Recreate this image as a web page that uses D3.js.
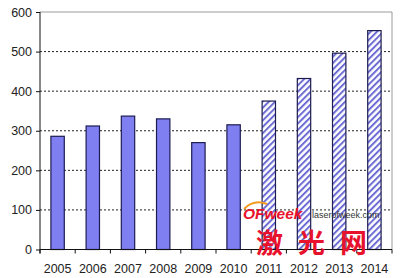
<!DOCTYPE html>
<html>
<head>
<meta charset="utf-8">
<script src="https://cdn.jsdelivr.net/npm/d3@7.9.0/dist/d3.min.js"></script>
<style>
  body { margin: 0; background: #fff; }
  text { font-family: "Liberation Sans", Arial, sans-serif; }
</style>
</head>
<body>
<svg id="chart" width="400" height="278"></svg>
<script>
// data
const years = ['2005', '2006', '2007', '2008', '2009', '2010', '2011', '2012', '2013', '2014'];
const values = [286, 312, 337, 330, 270, 315, 375, 432, 496, 553];
const forecast = [false, false, false, false, false, false, true, true, true, true];
const yTicks = [0, 100, 200, 300, 400, 500, 600];

const svg = d3.select('#chart');
const plotL = 40, plotR = 392, plotT = 12, plotB = 249.5;

let x = d3.scaleBand().domain(years).range([plotL, plotR])
  .paddingInner(0.62).paddingOuter(0.31);
let y = d3.scaleLinear().domain([0, 600]).range([plotB, plotT]);

// hatch for the forecast years
let defs = svg.append('defs');
let pat = defs.append('pattern')
  .attr('id', 'hatch')
  .attr('patternUnits', 'userSpaceOnUse')
  .attr('width', 4.5).attr('height', 4.5)
  .attr('patternTransform', 'rotate(45)');
pat.append('rect').attr('width', 4.5).attr('height', 4.5).attr('fill', '#fff');
pat.append('rect').attr('width', 2).attr('height', 4.5).attr('fill', '#6c6cd4');

// dotted grid
svg.append('g')
  .selectAll('line')
  .data(yTicks.filter(d => d > 0 && d < 600))
  .join('line')
  .attr('x1', plotL).attr('x2', plotR)
  .attr('y1', d => y(d)).attr('y2', d => y(d))
  .attr('stroke', '#222')
  .attr('stroke-width', 1)
  .attr('stroke-dasharray', '2,2');

// grey frame top and right
svg.append('path')
  .attr('d', `M${plotL},${y(600)}H${plotR}V${plotB}`)
  .attr('fill', 'none')
  .attr('stroke', '#9a9a9a')
  .attr('stroke-width', 1);

// bars
svg.append('g')
  .selectAll('rect')
  .data(years)
  .join('rect')
  .attr('x', d => x(d))
  .attr('y', (d, i) => y(values[i]))
  .attr('width', x.bandwidth())
  .attr('height', (d, i) => y(0) - y(values[i]))
  .attr('fill', (d, i) => forecast[i] ? 'url(#hatch)' : '#7f7ff2')
  .attr('stroke', '#1c1c50')
  .attr('stroke-width', 1.2);

// y axis
let yAxis = d3.axisLeft(y).tickValues(yTicks).tickSize(4).tickPadding(4);
let gy = svg.append('g').attr('transform', `translate(${plotL},0)`).call(yAxis);
gy.select('.domain').attr('d', `M0,${y(600)}V${plotB + 4}`).attr('stroke', '#111');
gy.selectAll('.tick line').attr('stroke', '#111');
gy.selectAll('text').attr('font-size', 12.5).attr('fill', '#222')
  .style('font-family', '"Liberation Sans", Arial, sans-serif');

// x axis line + ticks between categories
svg.append('line')
  .attr('x1', plotL).attr('x2', plotR)
  .attr('y1', plotB).attr('y2', plotB)
  .attr('stroke', '#111');
let edges = years.map(d => x(d) - (x.step() - x.bandwidth()) / 2).concat([plotR]);
svg.append('g')
  .selectAll('line')
  .data(edges)
  .join('line')
  .attr('x1', d => d).attr('x2', d => d)
  .attr('y1', plotB).attr('y2', plotB + 4)
  .attr('stroke', '#111');
svg.append('g')
  .selectAll('text')
  .data(years)
  .join('text')
  .attr('x', d => x(d) + x.bandwidth() / 2)
  .attr('y', 272.5)
  .attr('text-anchor', 'middle')
  .attr('font-size', 12.5)
  .attr('fill', '#222')
  .text(d => d);

// watermark
let wm = svg.append('g');
wm.append('path')
  .attr('d', 'M244,209 Q254,199 267,204')
  .attr('fill', 'none')
  .attr('stroke', '#f39a1e')
  .attr('stroke-width', 2);
wm.append('text')
  .attr('x', 243).attr('y', 218.5)
  .attr('font-size', 15.5).attr('font-weight', 'bold').attr('font-style', 'italic')
  .attr('fill', '#e8122c')
  .text('OFweek');
wm.append('text')
  .attr('x', 312).attr('y', 218)
  .attr('font-size', 9)
  .attr('fill', '#333')
  .text('laserofweek.com');
wm.append('text')
  .attr('x', 256).attr('y', 253)
  .attr('font-size', 27).attr('font-weight', 'bold')
  .attr('letter-spacing', 15)
  .attr('fill', '#e8122c')
  .style('font-family', '"Noto Sans CJK SC", sans-serif')
  .text('激光网');
</script>
</body>
</html>
